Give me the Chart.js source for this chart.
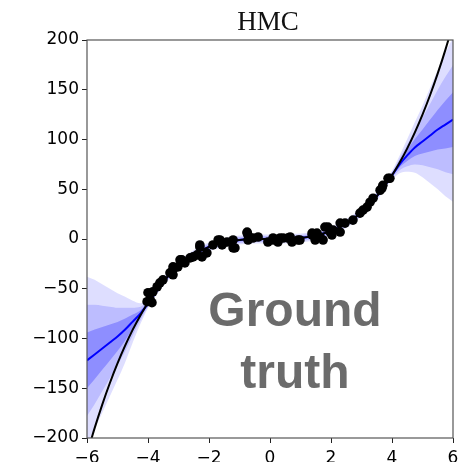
<!DOCTYPE html>
<html>
<head>
<meta charset="utf-8">
<script src="https://cdn.jsdelivr.net/npm/chart.js@4.4.1/dist/chart.umd.min.js"></script>
<style>
  html, body { margin: 0; padding: 0; background: #fff; }
  #hmc { display: block; }
</style>
</head>
<body>
<canvas id="hmc" width="472" height="462"></canvas>
<script>
// curve grid (finer in the tails), ground truth (x^3), posterior mean and posterior spread
const gridX = [-6, -5.75, -5.5, -5.25, -5, -4.75, -4.5, -4.25, -4, -3.5, -3, -2.5, -2, -1.5, -1, -0.5, 0,
  0.5, 1, 1.5, 2, 2.5, 3, 3.5, 4, 4.25, 4.5, 4.75, 5, 5.25, 5.5, 5.75, 6];
const truthY = [-216, -190.1, -166.4, -144.7, -125, -107.2, -91.1, -76.8, -64, -42.9, -27, -15.6, -8, -3.4, -1, -0.1, 0,
  0.1, 1, 3.4, 8, 15.6, 27, 42.9, 64, 76.8, 91.1, 107.2, 125, 144.7, 166.4, 190.1, 216];
const meanY = [-122, -116, -110, -104, -98, -91, -83, -75, -65, -43, -27, -15.6, -8, -3.4, -1, -0.1, 0,
  0.1, 1, 3.4, 8, 15.6, 27, 43, 64, 75, 84, 92, 98, 104, 110, 115, 120];
const spreadY = [28, 25, 21.5, 18, 14.5, 11, 7, 3.5, 1.5, 1.5, 1.5, 1.5, 1.5, 1.5, 1.5, 1.5, 1.5,
  1.5, 1.5, 1.5, 1.5, 1.5, 1.5, 1.5, 1.5, 3, 5.5, 8.5, 12, 16, 20, 24, 27.5];

// observed training points
const pointX = [-4.03, -4.0, -3.93, -3.87, -3.84, -3.7, -3.61, -3.51, -3.28, -3.18, -3.18, -3.18, -3.02, -2.95, -2.89, -2.79,
  -2.62, -2.52, -2.39, -2.3, -2.3, -2.23, -2.07, -1.87, -1.7, -1.64, -1.57, -1.41, -1.21, -1.21, -1.15,
  -0.75, -0.75, -0.72, -0.72, -0.56, -0.39, -0.07, 0.1, 0.1, 0.26, 0.33, 0.43, 0.59, 0.66, 0.72, 0.92, 0.98,
  1.38, 1.38, 1.48, 1.54, 1.64, 1.74, 1.8, 1.9, 1.97, 2.03, 2.07, 2.3, 2.3, 2.46, 2.72, 2.95, 3.05, 3.18,
  3.28, 3.38, 3.61, 3.67, 3.7, 3.87, 3.93];
const pointY = [-63, -54, -61, -64, -53, -48, -44, -41, -34, -31, -36, -28, -28, -21, -21, -24,
  -19, -18, -16, -8, -6, -18, -14, -6, -1, -1, -6, -3, -9, -1, -9,
  7, 6, -1, 4, 1, 2, -3, -1, 1, -3, 1, 1, 1, 2, -3, -1, -1,
  6, 4, -1, 6, 2, -1, 12, 12, 7, 4, 9, 7, 16, 16, 19, 26, 29, 32,
  37, 41, 49, 51, 54, 61, 61];

const xTicks = [-6, -4, -2, 0, 2, 4, 6];

function pairs(xs, ys) {
  return xs.map((x, i) => ({ x: x, y: ys[i] }));
}

function bandEdge(k) {
  return meanY.map((m, i) => m + k * spreadY[i]);
}

function formatTick(value) {
  return value < 0 ? '\u2212' + Math.abs(value) : String(value);
}

const lineBase = { pointRadius: 0, cubicInterpolationMode: 'monotone', borderWidth: 0 };

const datasets = [
  {
    type: 'scatter',
    data: pairs(pointX, pointY),
    pointRadius: 4.8,
    pointBackgroundColor: '#000',
    pointBorderWidth: 0,
  },
  { ...lineBase, data: pairs(gridX, truthY), borderColor: '#000', borderWidth: 2, fill: false },
  { ...lineBase, data: pairs(gridX, meanY), borderColor: '#0000ff', borderWidth: 2, fill: false },
];

// three shaded bands (1, 2 and 3 spreads around the mean)
const bandAlpha = { 3: 0.13, 2: 0.15, 1: 0.25 };
[3, 2, 1].forEach((k) => {
  datasets.push({ ...lineBase, data: pairs(gridX, bandEdge(k)), borderColor: 'transparent', fill: '+1', backgroundColor: `rgba(0,0,255,${bandAlpha[k]})` });
  datasets.push({ ...lineBase, data: pairs(gridX, bandEdge(-k)), borderColor: 'transparent', fill: false });
});

const decorations = {
  id: 'decorations',
  afterDraw(chart) {
    const { ctx, chartArea } = chart;
    ctx.save();
    ctx.strokeStyle = '#555';
    ctx.lineWidth = 1.2;
    ctx.strokeRect(chartArea.left, chartArea.top, chartArea.right - chartArea.left, chartArea.bottom - chartArea.top);

    ctx.fillStyle = '#111';
    ctx.font = '27px "Liberation Serif", serif';
    ctx.textAlign = 'center';
    ctx.textBaseline = 'alphabetic';
    ctx.fillText('HMC', 268, 30);

    ctx.fillStyle = '#6b6b6b';
    ctx.font = 'bold 48px "Liberation Sans", Arial, sans-serif';
    ctx.fillText('Ground', 295, 326);
    ctx.fillText('truth', 295, 388);
    ctx.restore();
  },
};

new Chart(document.getElementById('hmc'), {
  type: 'line',
  data: { datasets: datasets },
  options: {
    responsive: false,
    animation: false,
    devicePixelRatio: 1,
    layout: { padding: { top: 40, right: 19, left: 0, bottom: 0 } },
    plugins: { legend: { display: false }, tooltip: { enabled: false } },
    scales: {
      x: {
        type: 'linear',
        min: -6,
        max: 6,
        afterFit: (scale) => { scale.height = 24; },
        afterBuildTicks: (scale) => { scale.ticks = xTicks.map((v) => ({ value: v })); },
        border: { display: false },
        grid: { drawOnChartArea: false, drawTicks: true, tickLength: 5, color: '#222' },
        ticks: {
          color: '#000',
          font: { family: '"DejaVu Sans"', size: 17 },
          padding: 5,
          maxRotation: 0,
          autoSkip: false,
          callback: formatTick,
        },
      },
      y: {
        type: 'linear',
        min: -200,
        max: 200,
        afterFit: (scale) => { scale.width = 87; },
        border: { display: false },
        grid: { drawOnChartArea: false, drawTicks: true, tickLength: 5, color: '#222' },
        ticks: {
          stepSize: 50,
          color: '#000',
          font: { family: '"DejaVu Sans"', size: 17 },
          padding: 3,
          callback: formatTick,
        },
      },
    },
  },
  plugins: [decorations],
});
</script>
</body>
</html>
